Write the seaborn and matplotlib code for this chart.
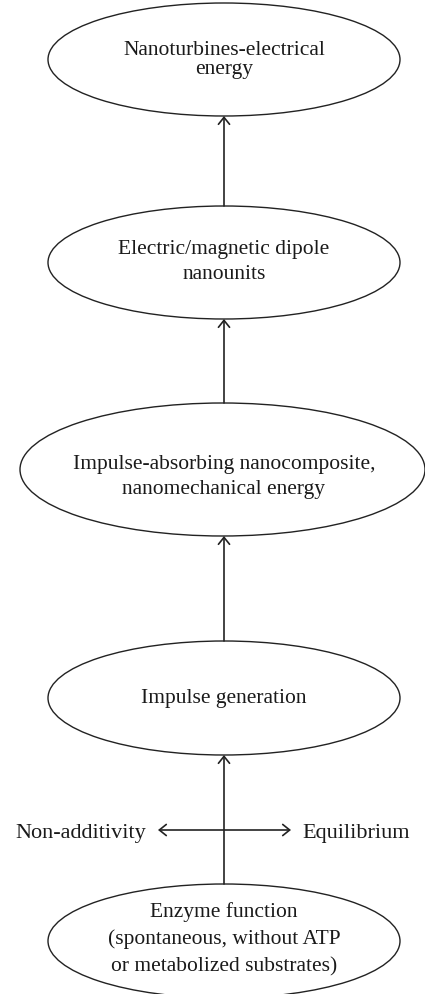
import matplotlib
matplotlib.use("Agg")
import matplotlib.pyplot as plt
from matplotlib.patches import Ellipse, FancyArrowPatch
import seaborn as sns

sns.set_theme(style="white")
plt.rcParams["font.family"] = ["Liberation Serif", "DejaVu Serif"]

# Nodes of the chain, from top to bottom
etiquetas = [
    "Nanoturbines-electrical\nenergy",
    "Electric/magnetic dipole\nnanounits",
    "Impulse-absorbing nanocomposite,\nnanomechanical energy",
    "Impulse generation",
    "Enzyme function\n(spontaneous, without ATP\nor metabolized substrates)",
]
lado_izq = "Non-additivity"
lado_der = "Equilibrium"

# Layout (pixels, y downwards)
centros_x = [224, 224, 222.5, 224, 224]
centros_y = [60.5, 263.5, 470.5, 699, 942]
anchos = [352, 352, 405, 352, 352]
altos = [113, 113, 133, 114, 114]
texto_y = [60, 262, 477, 698, 939]
interlineado = [1.04, 1.42, 1.37, 1.2, 1.53]
cx = 224
tam = 15.5

fig = plt.figure(figsize=(4.25, 9.95), dpi=100)
ax = fig.add_axes([0, 0, 1, 1])
ax.set_xlim(0, 425)
ax.set_ylim(995, 0)
ax.axis("off")

color_linea = "#222222"
color_texto = "#1a1a1a"

for i, texto in enumerate(etiquetas):
    e = Ellipse((centros_x[i], centros_y[i]), anchos[i], altos[i], fill=False,
                edgecolor=color_linea, lw=1.0)
    ax.add_patch(e)
    ax.text(cx, texto_y[i], texto, ha="center", va="center",
            fontsize=tam, color=color_texto, linespacing=interlineado[i])

# vertical arrows between consecutive ellipses
for i in range(len(etiquetas) - 1):
    y_ini = centros_y[i + 1] - altos[i + 1] / 2
    y_fin = centros_y[i] + altos[i] / 2
    flecha = FancyArrowPatch((cx, y_ini), (cx, y_fin),
                             arrowstyle="->,head_length=5,head_width=4",
                             mutation_scale=1, color=color_linea, lw=1.2,
                             shrinkA=0, shrinkB=0)
    ax.add_patch(flecha)

# horizontal double arrow
y_h = 831
doble = FancyArrowPatch((158, y_h), (291, y_h),
                        arrowstyle="<->,head_length=5,head_width=4",
                        mutation_scale=1, color=color_linea, lw=1.2,
                        shrinkA=0, shrinkB=0)
ax.add_patch(doble)
ax.text(146, 838, lado_izq, ha="right", va="baseline", fontsize=16, color=color_texto)
ax.text(302, 838, lado_der, ha="left", va="baseline", fontsize=16, color=color_texto)

fig.savefig("out.png", dpi=100)
plt.close(fig)
